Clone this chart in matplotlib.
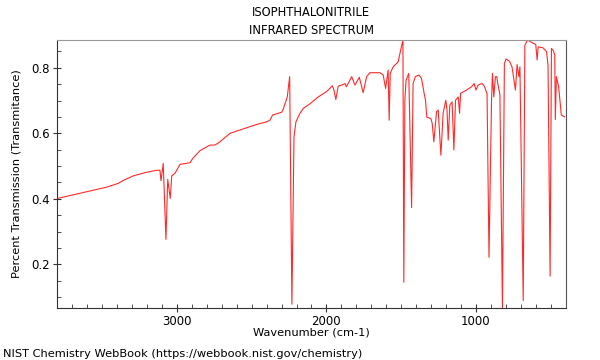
import matplotlib
matplotlib.use("Agg")
import matplotlib.pyplot as plt
from matplotlib.ticker import MultipleLocator

# points (wavenumber cm-1, transmittance)
wavenumber = [3800, 3475, 3393, 3355, 3292, 3203, 3136, 3114, 3107, 3092,
              3074, 3062, 3045, 3035, 3013, 2980, 2913, 2895, 2846, 2779,
              2746, 2712, 2645, 2534, 2467, 2400, 2378, 2360, 2300, 2289,
              2262, 2246, 2231, 2217, 2204, 2177, 2155, 2110, 2055, 2000,
              1977, 1960, 1950, 1937, 1921, 1898, 1876, 1866, 1831, 1809,
              1780, 1754, 1731, 1709, 1642, 1620, 1604, 1587, 1580, 1573,
              1553, 1520, 1508, 1493, 1488, 1482, 1475, 1467, 1449, 1430,
              1420, 1405, 1381, 1364, 1346, 1337, 1328, 1301, 1292, 1281,
              1263, 1252, 1234, 1219, 1201, 1193, 1185, 1174, 1159, 1147,
              1136, 1118, 1109, 1102, 1062, 1029, 1011, 1000, 985, 958,
              941, 925, 912, 895, 889, 880, 869, 860, 855, 839,
              822, 809, 798, 775, 758, 735, 724, 712, 705, 683,
              672, 654, 628, 599, 590, 583, 550, 527, 517, 503,
              494, 483, 472, 468, 461, 446, 428, 406]
transmittance = [0.401, 0.435, 0.447, 0.457, 0.470, 0.481, 0.487, 0.487, 0.455, 0.508,
                 0.276, 0.459, 0.401, 0.470, 0.478, 0.505, 0.510, 0.523, 0.547, 0.564,
                 0.564, 0.574, 0.600, 0.617, 0.627, 0.635, 0.640, 0.656, 0.664, 0.674,
                 0.711, 0.773, 0.078, 0.589, 0.635, 0.661, 0.676, 0.690, 0.711, 0.727,
                 0.737, 0.745, 0.733, 0.703, 0.744, 0.747, 0.752, 0.742, 0.773, 0.747,
                 0.771, 0.724, 0.773, 0.785, 0.785, 0.778, 0.737, 0.793, 0.640, 0.783,
                 0.803, 0.818, 0.844, 0.874, 0.885, 0.145, 0.701, 0.762, 0.783, 0.373,
                 0.752, 0.773, 0.778, 0.768, 0.722, 0.701, 0.649, 0.645, 0.630, 0.574,
                 0.666, 0.671, 0.533, 0.661, 0.701, 0.671, 0.579, 0.686, 0.696, 0.549,
                 0.701, 0.711, 0.661, 0.722, 0.732, 0.742, 0.752, 0.732, 0.747, 0.752,
                 0.742, 0.720, 0.221, 0.701, 0.783, 0.711, 0.773, 0.773, 0.757, 0.717,
                 0.067, 0.813, 0.827, 0.820, 0.803, 0.732, 0.810, 0.773, 0.803, 0.089,
                 0.869, 0.885, 0.878, 0.871, 0.824, 0.864, 0.861, 0.849, 0.808, 0.164,
                 0.859, 0.854, 0.839, 0.642, 0.773, 0.742, 0.656, 0.650]

title = "ISOPHTHALONITRILE\nINFRARED SPECTRUM"
xticks = [3000, 2000, 1000]
yticks = [0.2, 0.4, 0.6, 0.8]

fig = plt.figure(figsize=(6, 3.6), dpi=100)
ax = fig.add_axes([0.095, 0.145, 0.848, 0.744])

ax.plot(wavenumber, transmittance, color="#ff2a2a", lw=0.8)

ax.set_xlim(3803, 398)
ax.set_ylim(0.067, 0.885)
ax.set_xticks(xticks)
ax.set_yticks(yticks)
ax.xaxis.set_minor_locator(MultipleLocator(100))
ax.yaxis.set_minor_locator(MultipleLocator(0.05))
ax.tick_params(which="major", direction="inout", length=6, labelsize=8.5, pad=2, color="#333333")
ax.tick_params(which="minor", direction="in", length=3, color="#333333")

ax.spines["top"].set_color("#999999")
ax.spines["right"].set_color("#555555")
ax.spines["left"].set_color("#333333")
ax.spines["bottom"].set_color("#333333")

ax.set_title(title, fontsize=8.3, pad=4, linespacing=1.55)
ax.set_xlabel("Wavenumber (cm-1)", fontsize=8.2, labelpad=0)
ax.set_ylabel("Percent Transmission (Transmitance)", fontsize=8.2, labelpad=7)
fig.text(0.005, 0.008, "NIST Chemistry WebBook (https://webbook.nist.gov/chemistry)", fontsize=8.2)

fig.savefig("out.png", dpi=100)
